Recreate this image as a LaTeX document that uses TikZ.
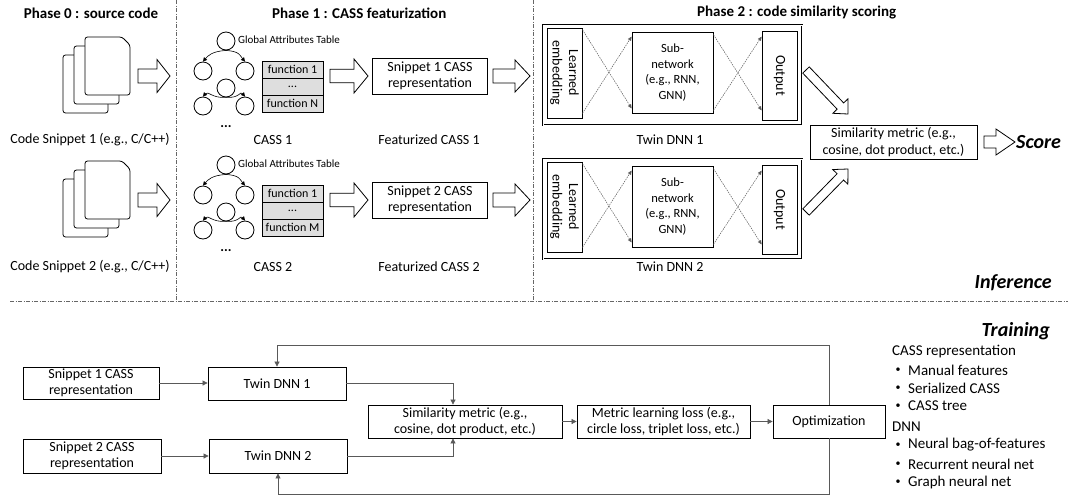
\documentclass[tikz,border=0pt]{standalone}
\usepackage{fontspec}
\setmainfont{Carlito}
\usetikzlibrary{arrows.meta,calc}
% hollow block arrow: from, to, shaft half width, head half width, head length
\newcommand\harrow[5]{%
  \coordinate (hac) at ($(#2)!#5!(#1)$);
  \draw[hollow] ($(#1)!#3!90:(#2)$) -- ($(hac)!#3!90:(#2)$) -- ($(hac)!#4!90:(#2)$) -- (#2)
    -- ($(hac)!#4!-90:(#2)$) -- ($(hac)!#3!-90:(#2)$) -- ($(#1)!#3!-90:(#2)$) -- cycle;}
% stack of three pages, front page top-left at (#1,#2)
\newcommand\docstack[2]{%
  \foreach \ddx/\ddy in {-22/18,-11/9,0/0}{%
    \draw[page] ({#1+\ddx},{#2+\ddy+58}) -- ({#1+\ddx},{#2+\ddy}) -- ({#1+\ddx+37},{#2+\ddy})
      -- ({#1+\ddx+45},{#2+\ddy+8}) -- ({#1+\ddx+45},{#2+\ddy+58}) -- cycle;}}
\begin{document}
\begin{tikzpicture}[x=1pt,y=-1pt,
  every node/.style={font=\fontsize{14}{16.5}\selectfont, inner sep=0pt},
  box/.style={draw, line width=0.8pt, align=center, fill=white},
  cell/.style={draw, line width=0.9pt, fill=black!13, minimum width=61, minimum height=17, font=\fontsize{12}{14}\selectfont},
  tcirc/.style={draw, circle, line width=0.8pt, minimum size=18},
  tarrow/.style={line width=0.6pt, -{Triangle[length=4pt,width=4pt]}},
  dotarr/.style={line width=0.5pt, black!65, dash pattern=on 1.5pt off 1pt, -{Triangle[length=4pt,width=3.5pt]}},
  hollow/.style={draw, fill=white, line width=0.8pt, line join=miter},
  divider/.style={line width=0.5pt, black!60, dash pattern=on 4pt off 1.5pt on 1pt off 1.5pt},
  head/.style={font=\bfseries\fontsize{15}{18}\selectfont},
  bigit/.style={font=\bfseries\itshape\fontsize{20}{24}\selectfont},
  page/.style={draw, fill=white, line width=0.8pt, rounded corners=2.5pt},
  conn/.style={line width=0.7pt, black!65, -{Triangle[length=5pt,width=5pt]}},
  twinouter/.style={draw, double, double distance=0.9pt, line width=0.6pt, minimum width=259, minimum height=100},
  inner/.style={draw, line width=0.8pt, fill=white, align=center},
  listtxt/.style={font=\fontsize{15}{18}\selectfont},
  bul/.style={font=\fontsize{10}{12}\selectfont},
]
\useasboundingbox (0,0) rectangle (1068,499);

% dividers
\coordinate (v1t) at (176,0); \coordinate (v1b) at (176,301);
\coordinate (v2t) at (533,0); \coordinate (v2b) at (533,301);
\coordinate (hl) at (10,301); \coordinate (hr) at (1068,301);
\draw[divider] (v1t) -- (v1b);
\draw[divider] (v2t) -- (v2b);
\draw[divider] (hl) -- (hr);

% headings
\node[head] (h0) at (91,13) {Phase 0 : source code};
\node[head, anchor=west] (h1) at (272,13) {Phase 1 : CASS featurization};
\node[head, anchor=west] (h2) at (697,13) {Phase 2 : code similarity scoring};

\foreach \r/\dy/\last/\tdy/\cy in {1/0/N/0/140, 2/124/M/134/267}{
  % phase 0
  \docstack{85}{37+\dy}
  \node (cap\r) at (90,\cy) {Code Snippet \r\ (e.g., C/C++)};
  \coordinate (p0s\r) at (138,76+\dy); \coordinate (p0e\r) at (170,76+\dy);
  \harrow{p0s\r}{p0e\r}{7pt}{16.5pt}{13pt}
  % phase 1 tree
  \node[tcirc] (t\r a) at (226,41+\dy) {};
  \node[tcirc] (t\r b) at (203,71+\dy) {};
  \node[tcirc] (t\r c) at (245,71+\dy) {};
  \node[tcirc] (t\r d) at (226,88+\dy) {};
  \node[tcirc] (t\r e) at (203,106+\dy) {};
  \node[tcirc] (t\r f) at (245,106+\dy) {};
  \draw[tarrow] (t\r a.south) .. controls +(-14,1) and +(5,-6) .. (t\r b.north);
  \draw[tarrow] (t\r a.south) .. controls +(14,1) and +(-5,-6) .. (t\r c.north);
  \draw[tarrow] (t\r d.south) .. controls +(-14,1) and +(5,-6) .. (t\r e.north);
  \draw[tarrow] (t\r d.south) .. controls +(14,1) and +(-5,-6) .. (t\r f.north);
  \node[font=\bfseries\fontsize{14}{16}\selectfont] (dots\r) at (226,127+\dy) {...};
  \node[anchor=west, font=\fontsize{11}{13}\selectfont] (gat\r) at (238,40+\dy) {Global Attributes Table};
  \node[cell] (fa\r) at (292.5,69.5+\dy) {function 1};
  \node[cell] (fb\r) at (292.5,86.5+\dy) {...};
  \node[cell] (fc\r) at (292.5,103.5+\dy) {function \last};
  \node (cass\r) at (273,\cy) {CASS \r};
  \coordinate (p1s\r) at (330,76+\dy); \coordinate (p1e\r) at (368,76+\dy);
  \harrow{p1s\r}{p1e\r}{6.7pt}{17pt}{14pt}
  \node[box, minimum width=115, minimum height=36] (snip\r) at (430,76+\dy) {Snippet \r\ CASS\\representation};
  \node (feat\r) at (429,\cy) {Featurized CASS \r};
  \coordinate (p2s\r) at (493,76+\dy); \coordinate (p2e\r) at (530,76+\dy);
  \harrow{p2s\r}{p2e\r}{7pt}{16pt}{15pt}
  % phase 2 twin
  \node[twinouter] (tw\r) at (672.5,75+\tdy) {};
  \node[inner, minimum width=35, minimum height=90] (e\r) at (564.5,73+\tdy) {};
  \node[rotate=-90, align=center] at (e\r) {Learned\\embedding};
  \node[inner, minimum width=81, minimum height=81, font=\fontsize{12.5}{15.5}\selectfont] (s\r) at (672.5,72.5+\tdy) {Sub-\\network\\(e.g., RNN,\\GNN)};
  \node[inner, minimum width=35, minimum height=89] (o\r) at (779.5,75.5+\tdy) {};
  \node[rotate=-90] at (o\r) {Output};
  \draw[dotarr] ($(e\r.north east)+(0,2)$) -- ($(s\r.south west)+(0,-5)$);
  \draw[dotarr] ($(e\r.south east)+(0,-5)$) -- ($(s\r.north west)+(0,5)$);
  \draw[dotarr] ($(s\r.north east)+(0,3)$) -- ($(o\r.south west)+(0,-10)$);
  \draw[dotarr] ($(s\r.south east)+(0,-3)$) -- ($(o\r.north west)+(0,6)$);
  \node (twl\r) at (670,\cy) {Twin DNN \r};
}

% similarity (inference)
\node[box, minimum width=167, minimum height=34] (sim) at (893.5,142) {Similarity metric (e.g.,\\cosine, dot product, etc.)};
\coordinate (ua1) at (806,70); \coordinate (ua2) at (848,114);
\coordinate (la1) at (806,212); \coordinate (la2) at (848,169);
\harrow{ua1}{ua2}{4.5pt}{10.5pt}{11pt}
\harrow{la1}{la2}{4.5pt}{10.5pt}{11pt}
\coordinate (sa1) at (984,142); \coordinate (sa2) at (1015,142);
\harrow{sa1}{sa2}{6pt}{13pt}{19pt}
\node[bigit, anchor=west] (score) at (1016,142) {Score};

\node[bigit, anchor=east] (inf) at (1052,283) {Inference};
\node[bigit, anchor=east] (trn) at (1050,331) {Training};

% training
\node[box, minimum width=136, minimum height=32] (b1) at (91,383) {Snippet 1 CASS\\representation};
\node[box, minimum width=138, minimum height=33] (bt1) at (277,383.5) {Twin DNN 1};
\node[box, minimum width=138, minimum height=34] (b2) at (92,456) {Snippet 2 CASS\\representation};
\node[box, minimum width=138, minimum height=34] (bt2) at (278,456) {Twin DNN 2};
\node[box, minimum width=194, minimum height=33] (bsim) at (465,421.5) {Similarity metric (e.g.,\\cosine, dot product, etc.)};
\node[box, minimum width=173, minimum height=33] (bloss) at (663.5,421.5) {Metric learning loss (e.g.,\\circle loss, triplet loss, etc.)};
\node[box, minimum width=112, minimum height=33] (bopt) at (829,421.5) {Optimization};

\draw[conn] (b1.east) -- (b1.east -| bt1.west);
\draw[conn] (b2.east) -- (b2.east -| bt2.west);
\coordinate (jx) at (453,0);
\draw[conn] (bt1.east) -| (jx |- bsim.north);
\draw[conn] (bt2.east) -| (jx |- bsim.south);
\draw[conn] (bsim.east) -- (bloss.west);
\draw[conn] (bloss.east) -- (bopt.west);
\coordinate (fbt) at (0,345); \coordinate (fbb) at (0,494);
\draw[conn] (bopt.north) |- (bt1.north |- fbt) -- (bt1.north);
\draw[conn] (bopt.south) |- (bt2.south |- fbb) -- (bt2.south);

% list
\node[listtxt, anchor=west] (l0) at (892,352) {CASS representation};
\foreach \t/\yy [count=\i] in {Manual features/370, Serialized CASS/388, CASS tree/406}{
  \node[bul] (ba\i) at (898,\yy) {•};
  \node[listtxt, anchor=west] (la\i) at (908,\yy) {\t};
}
\node[listtxt, anchor=west] (l1) at (892,427) {DNN};
\foreach \t/\yy [count=\i] in {Neural bag-of-features/445, Recurrent neural net/464, Graph neural net/482}{
  \node[bul] (bb\i) at (898,\yy) {•};
  \node[listtxt, anchor=west] (lb\i) at (908,\yy) {\t};
}
\end{tikzpicture}
\end{document}
